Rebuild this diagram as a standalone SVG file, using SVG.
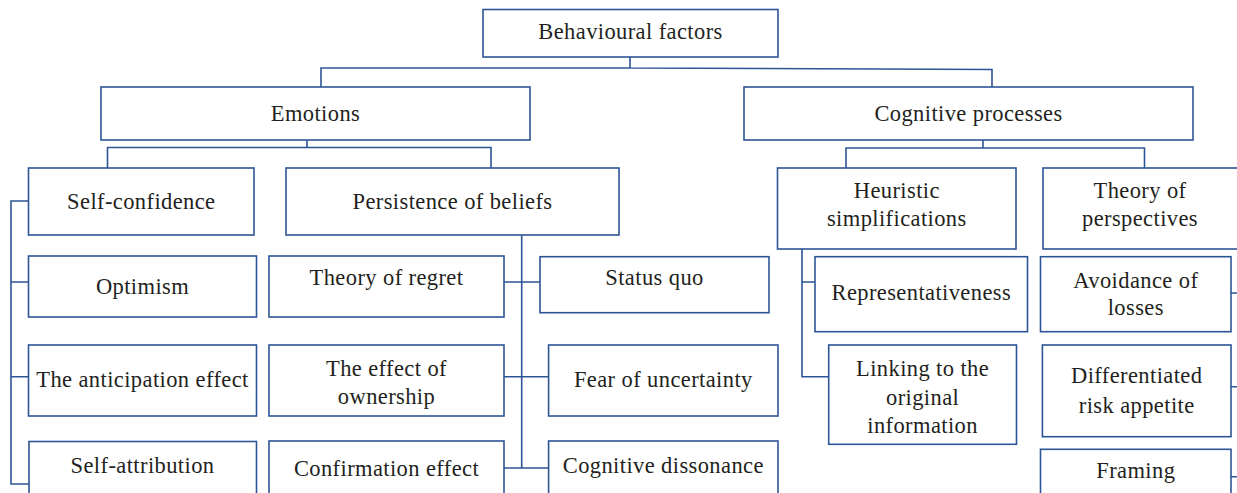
<svg xmlns="http://www.w3.org/2000/svg" width="1237" height="493" viewBox="0 0 1237 493">
<style>
.b{fill:#fff;stroke:#2d5595;stroke-width:1.6}
.c{fill:none;stroke:#2d5595;stroke-width:1.6}
text{font-family:"Liberation Serif","Times New Roman",serif;font-size:22.5px;fill:#231f20;text-anchor:middle;letter-spacing:0.4px}
</style>
<rect width="1237" height="493" fill="#fff"/>
<g id="connectors">
<path class="c" d="M630,57V68M321,87V68H630L992,69.5V87"/>
<path class="c" d="M307,140V147.5M107.5,168V147.5H491V168"/>
<path class="c" d="M983,140V148M846,168V148H1144.5V168"/>
<path class="c" d="M28.5,201H11V484H29M11,282H28.5M11,376.7H28.5"/>
<path class="c" d="M521.7,235V468M504,282H540M504,376.7H548.6M504,468H548.6"/>
<path class="c" d="M802,249V376.7H828.7M802,282H815"/>
<path class="c" d="M1231,293H1240M1231,386.7H1240M1231,476.7H1240"/>
</g>
<g id="n-behavioural"><rect class="b" x="483" y="9.5" width="295" height="47.5"/><text x="630.5" y="39.3">Behavioural factors</text></g>
<g id="n-emotions"><rect class="b" x="101" y="87" width="429" height="53"/><text x="315.5" y="120.7">Emotions</text></g>
<g id="n-cognitive"><rect class="b" x="744" y="87" width="449" height="53"/><text x="968.5" y="120.7">Cognitive processes</text></g>
<g id="n-selfconfidence"><rect class="b" x="28.5" y="168" width="225.5" height="67"/><text x="141.3" y="209">Self-confidence</text></g>
<g id="n-persistence"><rect class="b" x="286" y="168" width="333" height="67"/><text x="452.5" y="209">Persistence of beliefs</text></g>
<g id="n-heuristic"><rect class="b" x="777.5" y="168" width="238.5" height="81"/><text x="896.8" y="198.3">Heuristic</text><text x="896.8" y="225.7">simplifications</text></g>
<g id="n-perspectives"><rect class="b" x="1043" y="168" width="200" height="81"/><text x="1140" y="198.3">Theory of</text><text x="1140" y="225.7">perspectives</text></g>
<g id="n-optimism"><rect class="b" x="28.5" y="256" width="228" height="61"/><text x="142.5" y="294.3">Optimism</text></g>
<g id="n-anticipation"><rect class="b" x="28.5" y="345" width="228" height="71"/><text x="142.5" y="386.7">The anticipation effect</text></g>
<g id="n-selfattribution"><rect class="b" x="29" y="441.5" width="227.5" height="60"/><text x="142.5" y="473.3">Self-attribution</text></g>
<g id="n-regret"><rect class="b" x="269" y="256" width="235" height="61"/><text x="386.5" y="285">Theory of regret</text></g>
<g id="n-ownership"><rect class="b" x="269" y="345" width="235" height="71"/><text x="386.5" y="376">The effect of</text><text x="386.5" y="404.3">ownership</text></g>
<g id="n-confirmation"><rect class="b" x="269" y="441" width="235" height="60"/><text x="386.5" y="476">Confirmation effect</text></g>
<g id="n-statusquo"><rect class="b" x="540" y="256.7" width="229" height="56"/><text x="654.5" y="285">Status quo</text></g>
<g id="n-fear"><rect class="b" x="548.6" y="345" width="229.4" height="71"/><text x="663.3" y="386.7">Fear of uncertainty</text></g>
<g id="n-dissonance"><rect class="b" x="548.6" y="441" width="229.4" height="60"/><text x="663.3" y="473.3">Cognitive dissonance</text></g>
<g id="n-representativeness"><rect class="b" x="815" y="256.7" width="212.5" height="75"/><text x="921.3" y="300">Representativeness</text></g>
<g id="n-linking"><rect class="b" x="828.7" y="345" width="187.8" height="99.3"/><text x="922.6" y="376">Linking to the</text><text x="922.6" y="405">original</text><text x="922.6" y="433.3">information</text></g>
<g id="n-avoidance"><rect class="b" x="1040.5" y="256.7" width="190.5" height="75"/><text x="1135.8" y="287.7">Avoidance of</text><text x="1135.8" y="315">losses</text></g>
<g id="n-differentiated"><rect class="b" x="1042.4" y="345" width="188.6" height="91.7"/><text x="1136.7" y="383.3">Differentiated</text><text x="1136.7" y="412.7">risk appetite</text></g>
<g id="n-framing"><rect class="b" x="1040.5" y="449.3" width="190.5" height="50"/><text x="1135.8" y="477.7">Framing</text></g>
</svg>
